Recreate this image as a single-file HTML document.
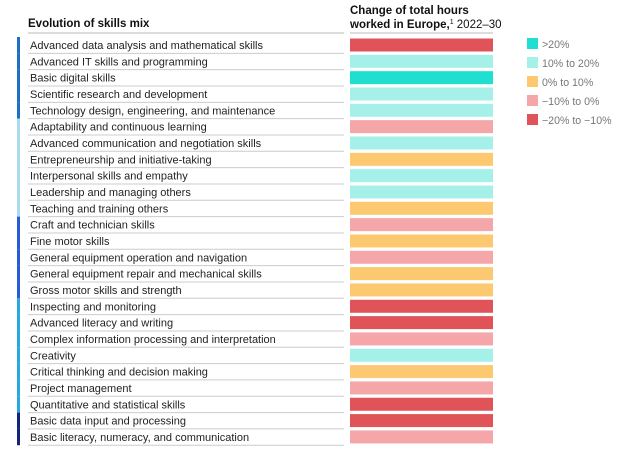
<!DOCTYPE html>
<html><head><meta charset="utf-8"><style>
body{margin:0;background:#fff;}
svg{display:block;font-family:"Liberation Sans",sans-serif;}
</style></head><body>
<svg id="c" width="634" height="458">
<text x="28" y="27" font-size="11.5" font-weight="bold" fill="#111">Evolution of skills mix</text>
<text x="350" y="14" font-size="11.5" font-weight="bold" fill="#111">Change of total hours</text>
<text x="350" y="28" font-size="11.5" fill="#111"><tspan font-weight="bold">worked in Europe,</tspan><tspan font-size="7" dy="-4">1</tspan><tspan dy="4"> 2022–30</tspan></text>
<line x1="28" y1="33" x2="344" y2="33" stroke="#bbb"/>
<line x1="350" y1="33" x2="493" y2="33" stroke="#bbb"/>
<g id="rows"></g><g id="legend"></g>
</svg>
<script>
const skills=["Advanced data analysis and mathematical skills","Advanced IT skills and programming","Basic digital skills","Scientific research and development","Technology design, engineering, and maintenance","Adaptability and continuous learning","Advanced communication and negotiation skills","Entrepreneurship and initiative-taking","Interpersonal skills and empathy","Leadership and managing others","Teaching and training others","Craft and technician skills","Fine motor skills","General equipment operation and navigation","General equipment repair and mechanical skills","Gross motor skills and strength","Inspecting and monitoring","Advanced literacy and writing","Complex information processing and interpretation","Creativity","Critical thinking and decision making","Project management","Quantitative and statistical skills","Basic data input and processing","Basic literacy, numeracy, and communication"];
const changeClass=[4,1,0,1,1,3,1,2,1,1,2,3,2,3,2,2,4,4,3,1,2,3,4,4,3];
const groupOf=[0,0,0,0,0,1,1,1,1,1,1,2,2,2,2,2,3,3,3,3,3,3,3,4,4];
const legendLabels=[">20%","10% to 20%","0% to 10%","−10% to 0%","−20% to −10%"];
const classColors=["#1fe0d0","#a6f0ea","#fcc870","#f4a6a8","#e05358"];
const groupColors=["#1f6fc4","#a8daf0","#2a5bd7","#29a8e0","#13257a"];
const NS="http://www.w3.org/2000/svg";
const y0=37,pitch=16.33;
const yPos=i=>y0+i*pitch;
const rows=document.getElementById('rows');
function mk(tag,attrs,parent){const e=document.createElementNS(NS,tag);for(const k in attrs)e.setAttribute(k,attrs[k]);parent.appendChild(e);return e;}
skills.forEach((s,i)=>{
  const y=yPos(i);
  const g=mk('rect',{x:17,y:y,width:3,height:pitch,fill:groupColors[groupOf[i]]},rows);
  
  
  const t=mk('text',{x:30,y:y+12,'font-size':11,fill:'#222'},rows);t.textContent=s;
  
  
  const l=mk('line',{x1:28,y1:y+pitch,x2:344,y2:y+pitch,stroke:'#ccc'},rows);
  
  
  const b=mk('rect',{x:350,y:y+1.5,width:143,height:13,fill:classColors[changeClass[i]]},rows);
  
  
});
const lg=document.getElementById('legend');
legendLabels.forEach((l,i)=>{
  const y=38+i*19;
  const r=mk('rect',{x:527,y:y,width:11,height:11,fill:classColors[i]},lg);
  
  
  const t=mk('text',{x:542,y:y+10,'font-size':10.6,fill:'#777'},lg);t.textContent=l;
  
  
});
</script>
</body></html>
